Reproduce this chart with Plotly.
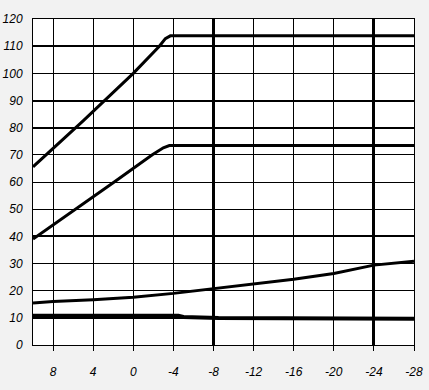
import plotly.graph_objects as go

# x values (axis runs from 10 down to -28)
x_ticks = [8, 4, 0, -4, -8, -12, -16, -20, -24, -28]
y_ticks = [0, 10, 20, 30, 40, 50, 60, 70, 80, 90, 100, 110, 120]
x_major = [-8, -24]
y_major = [10, 40, 80, 90, 110]

top_x = [10, 5, 0, -2.6, -3.2, -3.7, -28]
top_y = [65.6, 82.5, 100, 110, 112.8, 113.8, 113.8]

mid_x = [10, 5.7, 1.9, -1.9, -3.0, -3.6, -28]
mid_y = [39, 50, 60, 70, 72.6, 73.4, 73.4]

low_x = [10, 8, 4, 0, -4, -8, -12, -16, -20, -24, -28]
low_y = [15.5, 16.0, 16.7, 17.6, 19.0, 20.8, 22.5, 24.2, 26.3, 29.4, 30.8]

base_x = [10, -4.5, -5.0, -8.5, -28]
base_y = [10.8, 10.8, 10.3, 9.9, 9.7]

fig = go.Figure()
for xs, ys, w in [(top_x, top_y, 3), (mid_x, mid_y, 3), (low_x, low_y, 3), (base_x, base_y, 4)]:
    fig.add_trace(go.Scatter(x=xs, y=ys, mode="lines",
                             line=dict(color="black", width=w, shape="linear"),
                             showlegend=False, hoverinfo="skip", cliponaxis=False))

font = dict(family="Liberation Sans, Arial, sans-serif", size=12, color="black")

fig.update_layout(
    width=429, height=390,
    margin=dict(l=33, r=15, t=19, b=45),
    paper_bgcolor="#f2f2f2",
    plot_bgcolor="white",
    font=font,
    xaxis=dict(range=[10, -28], tickvals=x_ticks, ticktext=[f"<i>{v}</i>" for v in x_ticks],
               showgrid=True, gridcolor="black", gridwidth=1, automargin=False,
               showline=True, linecolor="black", linewidth=1, mirror=True,
               ticks="outside", ticklen=5, tickcolor="black", tickwidth=1,
               ticklabelstandoff=11, zeroline=False, tickfont=font),
    yaxis=dict(range=[0, 120], tickvals=y_ticks, ticktext=[f"<i>{v}</i>" for v in y_ticks],
               showgrid=True, gridcolor="black", gridwidth=1, automargin=False,
               showline=True, linecolor="black", linewidth=1, mirror=True,
               ticks="", ticklabelstandoff=7, zeroline=False, tickfont=font),
    xaxis2=dict(range=[10, -28], overlaying="x", tickvals=x_major, showticklabels=False,
                showgrid=True, gridcolor="black", gridwidth=2.5, showline=False,
                ticks="", zeroline=False, automargin=False),
    yaxis2=dict(range=[0, 120], overlaying="y", tickvals=y_major, showticklabels=False,
                showgrid=True, gridcolor="black", gridwidth=2, showline=False,
                ticks="", zeroline=False, automargin=False),
)
# invisible trace to activate the overlay axes
fig.add_trace(go.Scatter(x=[None], y=[None], xaxis="x2", yaxis="y2",
                         showlegend=False, hoverinfo="skip"))

fig.write_html("out.html")
